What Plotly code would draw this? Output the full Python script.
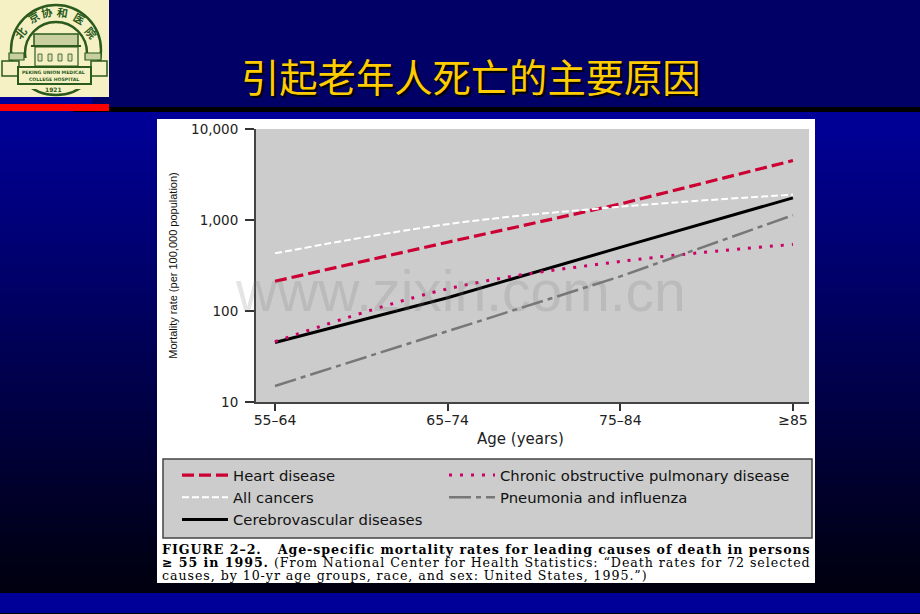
import plotly.graph_objects as go

# ---- data ----
age_groups = ["55–64", "65–74", "75–84", "≥85"]
heart_disease = [212, 570, 1500, 4500]
chronic_pulmonary = [46, 175, 350, 540]
all_cancers = [430, 900, 1400, 1900]
pneumonia_influenza = [15, 60, 240, 1130]
cerebrovascular = [45, 140, 500, 1750]
y_ticks = [10, 100, 1000, 10000]
y_tick_labels = ["10", "100", "1,000", "10,000"]

W, H = 920, 614
L, R, T, B = 256, 809, 129, 402


def px(x):
    return (x - L) / (R - L)


def py(y):
    return (B - y) / (B - T)


shapes = []


def rect(x0, y0, x1, y1, fill, line=None, lw=1):
    shapes.append(dict(type="rect", xref="paper", yref="paper", x0=px(x0), x1=px(x1), y0=py(y0), y1=py(y1),
                       fillcolor=fill, line=dict(color=line or fill, width=lw if line else 0), layer="below"))


def circle(cx, cy, r, color, lw=2):
    shapes.append(dict(type="circle", xref="paper", yref="paper", x0=px(cx - r), x1=px(cx + r), y0=py(cy - r),
                       y1=py(cy + r), line=dict(color=color, width=lw), layer="below"))


annotations = []


def text(x, y, s, size, color="#000000", family="Liberation Sans", xanchor="left", angle=0, shadow=None):
    font = dict(size=size, color=color, family=family)
    if shadow:
        font["shadow"] = shadow
    annotations.append(dict(xref="paper", yref="paper", x=px(x), y=py(y), text=s, showarrow=False, xanchor=xanchor,
                            yanchor="middle", font=font, textangle=angle, borderpad=0, borderwidth=0))


# ---- slide background ----
rect(0, 0, 920, 108, "#000066")
steps = 120
for i in range(steps):
    y0 = 111 + i * (593 - 111) / steps
    y1 = 111 + (i + 1) * (593 - 111) / steps + 0.5
    b = round(153 - (153 - 14) * i / (steps - 1))
    rect(0, y0, 920, y1, f"rgb(0,0,{b})")
rect(0, 593, 920, 613, "#000099")
rect(0, 613, 920, 614, "#000000")
rect(73, 107, 920, 112, "#000000")
rect(0, 97, 92, 104, "#000099")
rect(92, 97, 109, 104, "#000066")
rect(0, 104, 109, 111, "#FF0000")

# ---- logo ----
G = "#2A5A1C"
rect(0, 0, 109, 97, "#F6F1C4")
circle(56, 50, 45, G, 2.4)
circle(56, 53, 31, G, 2.4)
rect(14, 58, 98, 89, "#F6F1C4")
rect(34, 34, 78, 46, "#C9D0A0", G, 1.5)
rect(31, 45, 81, 47, G)
rect(35, 47, 78, 66, "#F6F1C4", G, 1.2)
for bx in (38, 48, 58, 68):
    rect(bx, 54, bx + 4, 61, "#DDDDB8", G, 0.8)
rect(9, 53, 24, 60, "#C9D0A0", G, 1.2)
rect(85, 53, 101, 60, "#C9D0A0", G, 1.2)
rect(9, 60, 13, 66, G)
rect(97, 60, 101, 66, G)
rect(2, 61, 19, 76, "#F6F1C4", G, 1.5)
rect(91, 61, 107, 76, "#F6F1C4", G, 1.5)
rect(18, 67, 91, 84, "#F6F1C4", G, 2)
text(54, 72, "<b>PEKING UNION MEDICAL</b>", 4.6, G, "DejaVu Sans", "center")
text(54, 79, "<b>COLLEGE HOSPITAL</b>", 4.6, G, "DejaVu Sans", "center")
text(54, 89, "<b>1921</b>", 6, G, "DejaVu Sans", "center")
for cx, cy, ch, ang in [(20, 33, "北", -50), (33, 17, "京", -30), (46, 12, "协", -10),
                        (62, 12, "和", 10), (79, 18, "医", 30), (91, 32, "院", 50)]:
    text(cx, cy, f"<b>{ch}</b>", 11, G, "Noto Sans CJK SC", "center", ang)

# ---- title ----
text(471, 75, "引起老年人死亡的主要原因", 38.3, "#FFCC00", "Noto Sans CJK SC", "center",
     shadow="2px 2px 1px #000000")

# ---- white figure panel, plot panel and legend panel ----
rect(157, 119, 815, 583, "#FFFFFF")
rect(L, T, R, B, "#CCCCCC")
rect(163, 459, 812, 538, "#CCCCCC", "#444444", 1.5)

# ---- watermark ----
text(460, 291, "www.zixin.com.cn", 57, "rgba(120,120,120,0.2)", "Liberation Sans", "center")

# ---- caption ----
SERIF = "DejaVu Serif"


def spaced(s, gap):
    return f'<span style="letter-spacing:{gap}px">{s}</span>'


text(162, 549, spaced("<b>FIGURE 2–2.   Age-specific mortality rates for leading causes of death in persons</b>", 0.95),
     12.6, "#000000", SERIF)
text(162, 562, spaced("<b>≥ 55 in 1995.</b> (From National Center for Health Statistics: “Death rates for 72 selected", 0.95),
     12.6, "#000000", SERIF)
text(162, 575, spaced("causes, by 10-yr age groups, race, and sex: United States, 1995.”)", 0.95), 12.6, "#000000", SERIF)

# ---- x axis title ----
text(520, 439, "Age (years)", 15, "#222222", "DejaVu Sans", "center")

series = [
    ("Heart disease", heart_disease, "#CC0033", 3.2, "12px,5px", "linear", "legend"),
    ("All cancers", all_cancers, "#FFFFFF", 2, "7px,3px", "spline", "legend"),
    ("Cerebrovascular diseases", cerebrovascular, "#000000", 3, "solid", "linear", "legend"),
    ("Chronic obstructive pulmonary disease", chronic_pulmonary, "#CC0066", 3, "3px,8px", "spline", "legend2"),
    ("Pneumonia and influenza", pneumonia_influenza, "#777777", 2.5, "22px,5px,5px,5px", "linear", "legend2"),
]

fig = go.Figure()
for name, values, color, width, dash, shape, legend in series:
    fig.add_trace(go.Scatter(
        x=age_groups, y=values, mode="lines", name=name, legend=legend,
        line=dict(color=color, width=width, dash=dash, shape=shape),
    ))

legend_style = dict(orientation="v", xanchor="left", yanchor="top", bgcolor="rgba(0,0,0,0)", borderwidth=0,
                    itemwidth=46, traceorder="normal", tracegroupgap=0,
                    font=dict(size=14.8, family="DejaVu Sans", color="#111111"))

fig.update_layout(
    width=W, height=H, margin=dict(l=L, r=W - R, t=T, b=H - B, pad=0),
    paper_bgcolor="#000066", plot_bgcolor="rgba(0,0,0,0)",
    shapes=shapes, annotations=annotations,
    showlegend=True,
    legend=dict(x=px(177), y=py(459), **legend_style),
    legend2=dict(x=px(444), y=py(459), **legend_style),
    xaxis=dict(type="category", range=[-0.11, 3.093], categoryorder="array", categoryarray=age_groups,
               showgrid=False, zeroline=False, showline=True, linecolor="#444444", linewidth=2,
               ticks="outside", ticklen=7, tickwidth=2, tickcolor="#333333", tickangle=0, ticklabelstandoff=-3,
               tickfont=dict(family="DejaVu Sans", size=14, color="#222222")),
    yaxis=dict(type="log", range=[1, 4], tickvals=y_ticks, ticktext=y_tick_labels,
               showgrid=False, zeroline=False, showline=True, linecolor="#444444", linewidth=2,
               ticks="outside", ticklen=9, tickwidth=2, tickcolor="#333333", ticklabelstandoff=4,
               tickfont=dict(family="DejaVu Sans", size=13.5, color="#222222"),
               title=dict(text="Mortality rate (per 100,000 population)", standoff=11,
                          font=dict(family="Liberation Sans", size=11, color="#111111"))),
)

fig.write_html("out.html", config={"displayModeBar": False},
               post_script="document.body.style.margin='0';document.documentElement.style.overflow='hidden';")
